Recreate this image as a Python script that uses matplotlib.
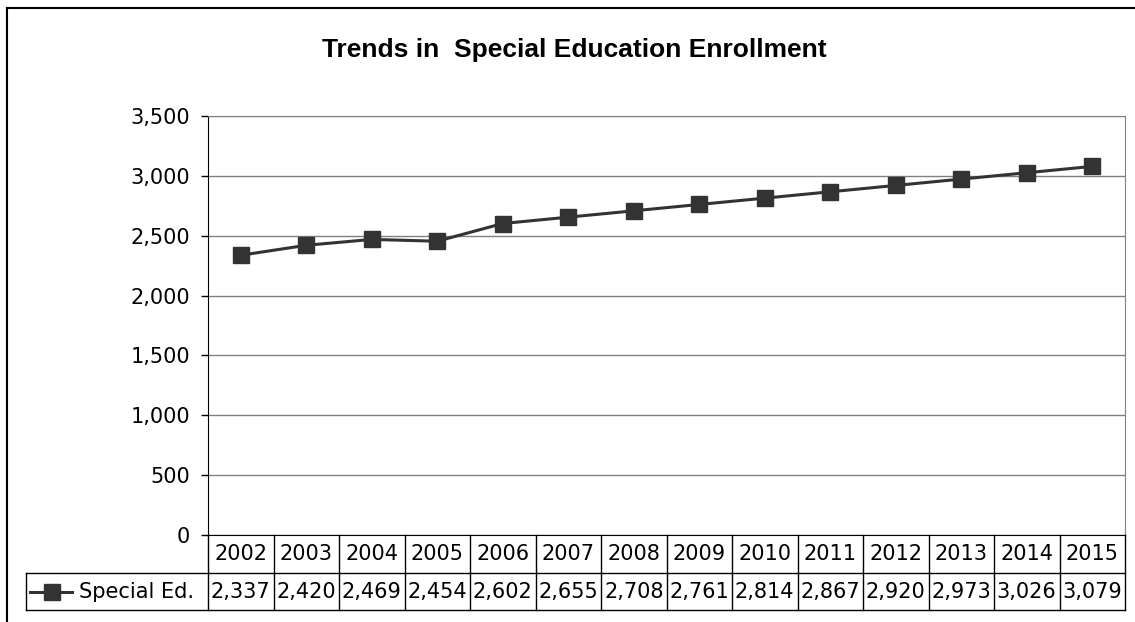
"""Trends in Special Education Enrollment - line chart with Excel-style data table."""

import matplotlib
matplotlib.use("Agg")
import matplotlib.pyplot as plt
import matplotlib.transforms as mtransforms
from matplotlib.lines import Line2D

years = ["2002", "2003", "2004", "2005", "2006", "2007", "2008",
         "2009", "2010", "2011", "2012", "2013", "2014", "2015"]
enrollment = [2337, 2420, 2469, 2454, 2602, 2655, 2708,
              2761, 2814, 2867, 2920, 2973, 3026, 3079]
series_name = "Special Ed."
yticks = [0, 500, 1000, 1500, 2000, 2500, 3000, 3500]

W, H = 1135, 622
LINE_COLOR = "#333333"
GRID_COLOR = "#808080"
FS = 15


def fx(px):
    return px / W


def fy(py):
    return 1 - py / H


def main():
    fig = plt.figure(figsize=(W / 100, H / 100), dpi=100)

    # plot area in pixels: left 208, right 1125, top 116, bottom 535
    ax = fig.add_axes([fx(208), fy(535), fx(1125 - 208), (535 - 116) / H])
    n = len(years)
    x = list(range(n))
    ax.plot(x, enrollment, color=LINE_COLOR, lw=2.2, marker="s",
            markersize=11.5, markerfacecolor=LINE_COLOR,
            markeredgecolor=LINE_COLOR, clip_on=False, zorder=3)
    ax.set_xlim(-0.5, n - 0.5)
    ax.set_ylim(0, 3500)
    ax.set_yticks(yticks)
    ax.set_yticklabels([f"{v:,}" for v in yticks], fontsize=FS,
                       family="DejaVu Sans")
    ax.set_xticks([])
    ax.yaxis.grid(True, color=GRID_COLOR, lw=1)
    ax.set_axisbelow(True)
    ax.tick_params(axis="y", length=5, width=1, color="black", pad=8)
    for side in ("top", "right"):
        ax.spines[side].set_color(GRID_COLOR)
    ax.spines["left"].set_color("black")
    ax.spines["bottom"].set_color("black")

    # data table under the plot
    trans = mtransforms.blended_transform_factory(ax.transData, fig.transFigure)
    col_w = (1125 - 208) / n  # pixels per category
    legend_left = -0.5 - (208 - 26) / col_w
    y_top, y_mid, y_bot = fy(535), fy(573), fy(610)
    lk = dict(color="black", lw=1, transform=trans, clip_on=False)
    for i in range(n + 1):
        fig.add_artist(Line2D([i - 0.5, i - 0.5], [y_top, y_bot], **lk))
    fig.add_artist(Line2D([legend_left, n - 0.5], [y_mid, y_mid], **lk))
    fig.add_artist(Line2D([legend_left, n - 0.5], [y_bot, y_bot], **lk))
    fig.add_artist(Line2D([legend_left, legend_left], [y_mid, y_bot], **lk))

    for i, (yr, v) in enumerate(zip(years, enrollment)):
        fig.text(i, (y_top + y_mid) / 2, yr, transform=trans, ha="center",
                 va="center", fontsize=FS, family="DejaVu Sans")
        fig.text(i, (y_mid + y_bot) / 2, f"{v:,}", transform=trans,
                 ha="center", va="center", fontsize=FS, family="DejaVu Sans")

    # legend key inside the table
    ky = (y_mid + y_bot) / 2
    fig.add_artist(Line2D([fx(30), fx(72)], [ky, ky], color=LINE_COLOR, lw=2.2))
    fig.add_artist(Line2D([fx(52)], [ky], marker="s", markersize=11.5,
                          color=LINE_COLOR, lw=0))
    fig.text(fx(79), ky, series_name, ha="left", va="center", fontsize=FS,
             family="DejaVu Sans")

    # title
    fig.text(fx(574), fy(57), "Trends in  Special Education Enrollment",
             ha="center", va="baseline", fontsize=19, fontweight="bold",
             family="Liberation Sans")

    # outer chart frame (only top/left visible in the crop)
    fig.add_artist(Line2D([fx(7), fx(7)], [fy(8), 0], color="black", lw=1.5))
    fig.add_artist(Line2D([fx(7), 1], [fy(8), fy(8)], color="black", lw=1.5))

    fig.savefig("out.png", dpi=100)
    plt.close(fig)


if __name__ == "__main__":
    main()
